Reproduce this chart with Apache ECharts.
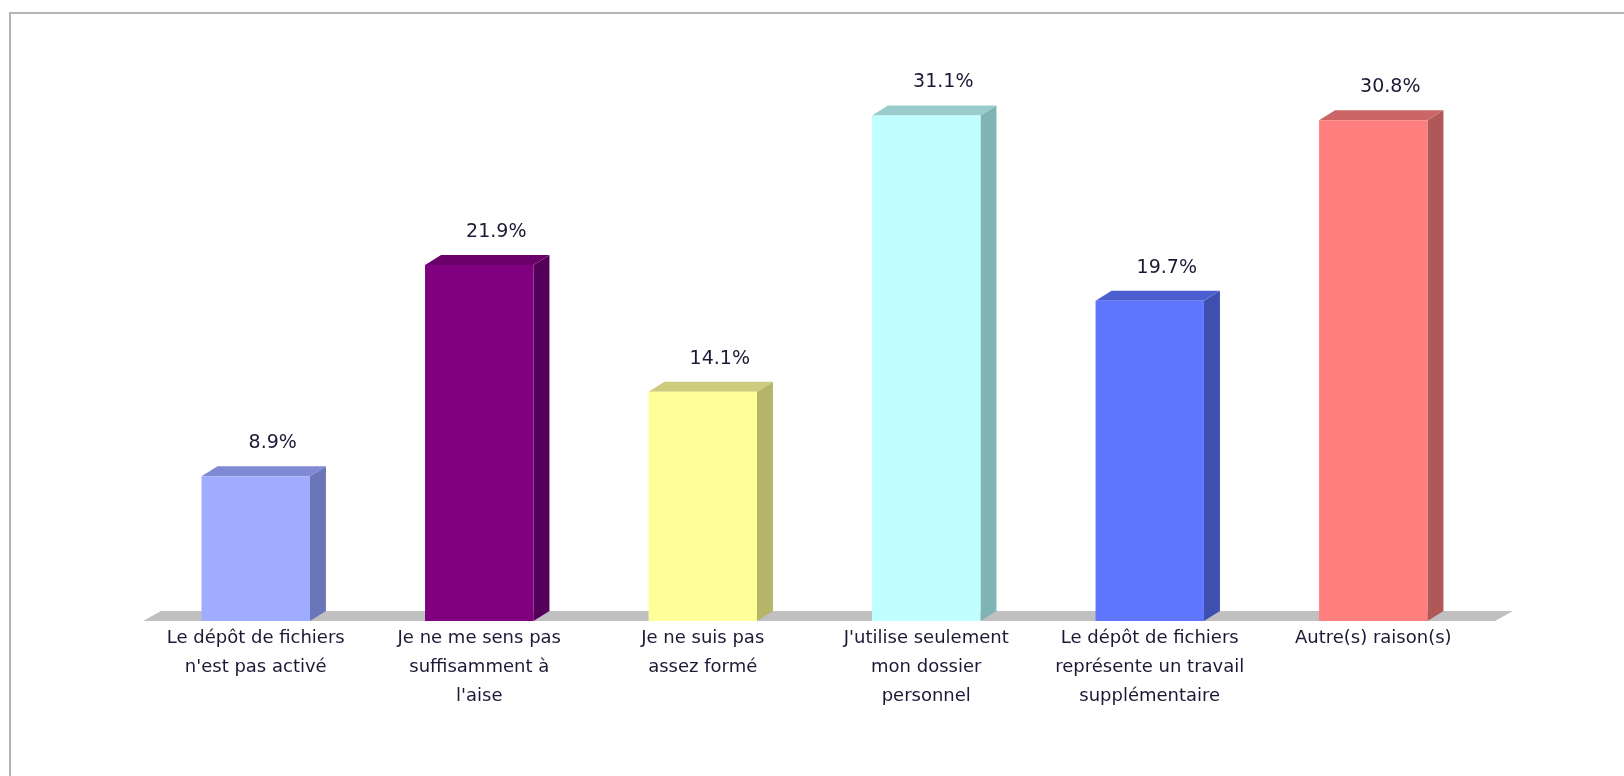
<!DOCTYPE html>
<html>
<head>
<meta charset="utf-8">
<script src="https://cdn.jsdelivr.net/npm/echarts@6/dist/echarts.min.js"></script>
<style>
html,body{margin:0;padding:0;background:#fff;}
#chart{width:1624px;height:776px;}
</style>
</head>
<body>
<div id="chart"></div>
<script>
const categories = [
  "Le dépôt de fichiers\nn'est pas activé",
  "Je ne me sens pas\nsuffisamment à\nl'aise",
  "Je ne suis pas\nassez formé",
  "J'utilise seulement\nmon dossier\npersonnel",
  "Le dépôt de fichiers\nreprésente un travail\nsupplémentaire",
  "Autre(s) raison(s)"
];
const values = [8.9, 21.9, 14.1, 31.1, 19.7, 30.8];
const frontColors = ['#a0acff', '#800080', '#ffff99', '#c0ffff', '#6076ff', '#ff7f7f'];
const sideColors  = ['#6a76b8', '#55005a', '#b5b56a', '#80b4b4', '#3f4fb0', '#b05858'];
const topColors   = ['#7f89d4', '#6b006b', '#cccc7c', '#98cccc', '#4c5fd0', '#cc6666'];

const DX = 16, DY = 10;
const TEXT_COLOR = '#1a1a36';
const FONT = 'DejaVu Sans';

const chart = echarts.init(document.getElementById('chart'));

const barData = values.map((v, i) => [i, v]);

chart.setOption({
  backgroundColor: '#ffffff',
  animation: false,
  graphic: [{
    type: 'polyline',
    shape: { points: [[10, 790], [10, 13], [1640, 13]] },
    style: { stroke: '#b4b4b4', lineWidth: 2, fill: null },
    z: 0
  }],
  grid: { left: 144, right: 139, top: 52, bottom: 155, containLabel: false },
  xAxis: {
    type: 'category',
    data: categories,
    axisLine: { show: false },
    axisTick: { show: false },
    axisLabel: {
      interval: 0,
      color: TEXT_COLOR,
      fontFamily: FONT,
      fontSize: 18,
      lineHeight: 29,
      margin: 3
    }
  },
  yAxis: {
    type: 'value',
    min: 0,
    max: 35,
    show: false,
    splitLine: { show: false }
  },
  series: [
    {
      type: 'custom',
      name: 'floor',
      z: 1,
      data: [[0]],
      silent: true,
      renderItem: function (params, api) {
        const cs = params.coordSys;
        const fy = cs.y + cs.height;
        const x0 = cs.x - 1;
        const x1 = cs.x + cs.width + 10;
        return {
          type: 'polygon',
          shape: { points: [[x0, fy], [x1, fy], [x1 + DX + 2, fy - DY], [x0 + DX + 2, fy - DY]] },
          style: { fill: '#c0c0c0' }
        };
      }
    },
    {
      type: 'custom',
      name: 'bars',
      z: 2,
      data: barData,
      renderItem: function (params, api) {
        const idx = params.dataIndex;
        const i = api.value(0), v = api.value(1);
        const p0 = api.coord([i, 0]);
        const p1 = api.coord([i, v]);
        const bw = api.size([1, 0])[0] * 0.485;
        const left = p0[0] - bw / 2, right = left + bw;
        const top = p1[1], bot = p0[1];
        return {
          type: 'group',
          children: [
            {
              type: 'polygon',
              shape: { points: [[right, top], [right + DX, top - DY], [right + DX, bot - DY], [right, bot]] },
              style: { fill: sideColors[idx] }
            },
            {
              type: 'polygon',
              shape: { points: [[left, top], [left + DX, top - DY], [right + DX, top - DY], [right, top]] },
              style: { fill: topColors[idx] }
            },
            {
              type: 'rect',
              shape: { x: left, y: top, width: bw, height: bot - top },
              style: { fill: frontColors[idx] }
            },
            {
              type: 'text',
              style: {
                text: v.toFixed(1) + '%',
                x: p0[0] + 17,
                y: top - 33,
                align: 'center',
                verticalAlign: 'middle',
                fill: TEXT_COLOR,
                font: '19px "' + FONT + '"'
              }
            }
          ]
        };
      }
    }
  ]
});
</script>
</body>
</html>
